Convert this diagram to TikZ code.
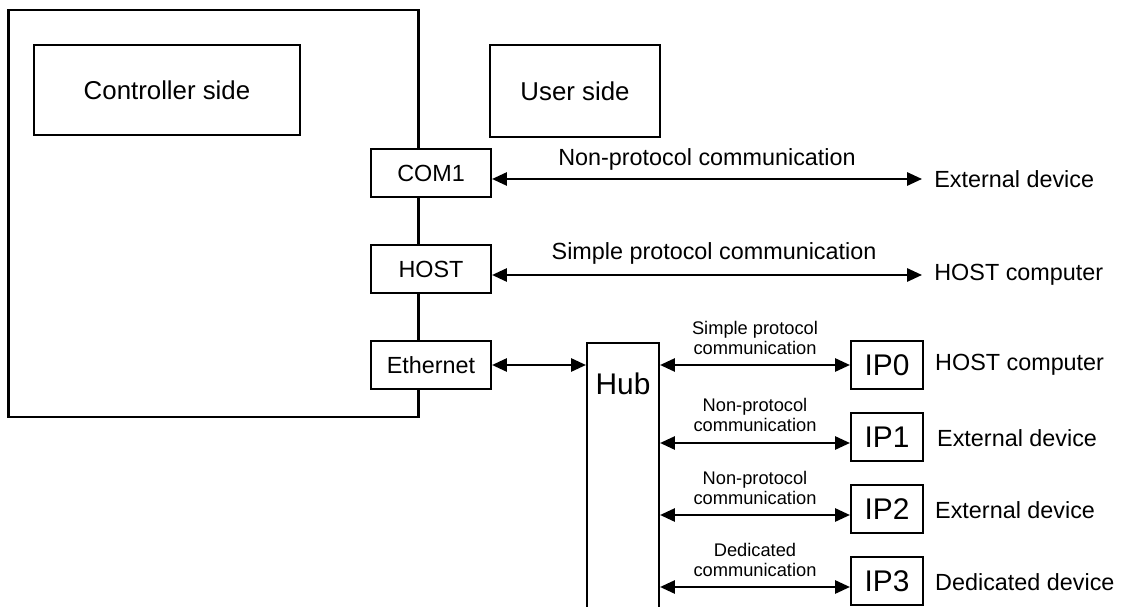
\documentclass[tikz,border=0pt]{standalone}
\usepackage{fontspec}
\setmainfont{Liberation Sans}
\usetikzlibrary{arrows.meta}
\tikzset{
  outline/.style={draw, line width=1.2pt, fill=white, inner sep=0pt},
  mainfont/.style={font=\fontsize{13.3}{16}\selectfont},
  sidefont/.style={font=\fontsize{14.7}{17}\selectfont},
  smallfont/.style={font=\fontsize{10.4}{11}\selectfont, align=center, inner sep=0pt},
  bigfont/.style={font=\fontsize{17}{20}\selectfont},
  port/.style={outline, mainfont, minimum width=2.4cm, minimum height=0.96cm},
  ipbox/.style={outline, bigfont, minimum width=1.44cm, minimum height=0.96cm},
  devtext/.style={mainfont, anchor=west, inner xsep=0.24cm, inner ysep=0pt},
  dbl/.style={line width=1.3pt, {Triangle[length=8.5pt,width=7.5pt]}-{Triangle[length=8.5pt,width=7.5pt]}}
}
\begin{document}
\begin{tikzpicture}[x=0.02cm,y=-0.02cm]
\useasboundingbox (0,0) rectangle (1124,607);
\clip (0,0) rectangle (1124,607);
% controller enclosure
\node[outline, minimum width=8.2cm, minimum height=8.14cm] (ctrl) at (213.5,213.5) {};
\node[outline, sidefont, minimum width=5.32cm, minimum height=1.8cm] (cside) at (167,90) {Controller side};
\node[outline, sidefont, minimum width=3.4cm, minimum height=1.84cm] (uside) at (575,91) {User side};
% ports
\node[port] (com1) at (431,173) {COM1};
\node[port] (host) at (431,269) {HOST};
\node[port] (eth) at (431,365) {Ethernet};
% external devices
\node[devtext] (ext1) at (922,179) {External device};
\node[devtext] (hostpc) at (922,275) {HOST computer};
\draw[dbl] (com1.east |- 0,179) -- (ext1.west);
\draw[dbl] (host.east |- 0,275) -- (hostpc.west);
\node[mainfont] (l1) at (707,159) {Non-protocol communication};
\node[mainfont] (l2) at (714,253) {Simple protocol communication};
% hub
\node[outline, minimum width=1.44cm, minimum height=5.8cm, anchor=north] (hub) at (623,342) {};
\node[bigfont] (hubt) at (623,384) {Hub};
\draw[dbl] (eth.east) -- (hub.west |- eth.east);
% IP boxes
\node[ipbox] (ip0) at (887,365) {IP0};
\node[ipbox] (ip1) at (887,437) {IP1};
\node[ipbox] (ip2) at (887,509) {IP2};
\node[ipbox] (ip3) at (887,581) {IP3};
\draw[dbl] (hub.east |- 0,365) -- (ip0.west |- 0,365);
\draw[dbl] (hub.east |- 0,443) -- (ip1.west |- 0,443);
\draw[dbl] (hub.east |- 0,515) -- (ip2.west |- 0,515);
\draw[dbl] (hub.east |- 0,587) -- (ip3.west |- 0,587);
\node[smallfont] (s0) at (755,338) {Simple protocol\\communication};
\node[smallfont] (s1) at (755,415) {Non-protocol\\communication};
\node[smallfont] (s2) at (755,488) {Non-protocol\\communication};
\node[smallfont] (s3) at (755,560) {Dedicated\\communication};
% device labels
\node[mainfont, anchor=west] (d0) at (929,365) {HOST computer};
\node[mainfont, anchor=west] (d1) at (931,438) {External device};
\node[mainfont, anchor=west] (d2) at (929,510) {External device};
\node[mainfont, anchor=west] (d3) at (929,582) {Dedicated device};
\end{tikzpicture}
\end{document}
